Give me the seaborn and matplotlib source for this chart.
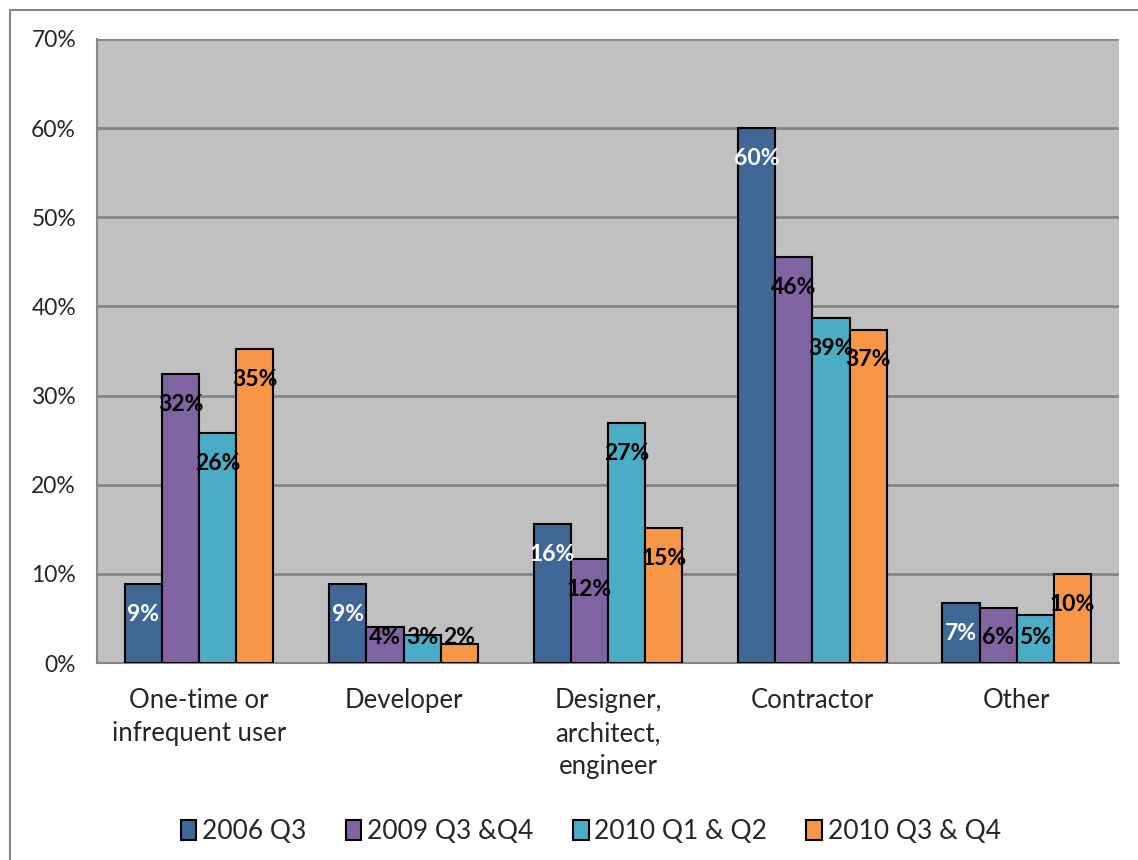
import numpy as np
import pandas as pd
import matplotlib
matplotlib.use("Agg")
import matplotlib.pyplot as plt
import seaborn as sns
from matplotlib.patches import Rectangle

categories = ["One-time or\ninfrequent user", "Developer", "Designer,\narchitect,\nengineer",
              "Contractor", "Other"]
series = ["2006 Q3", "2009 Q3 &Q4", "2010 Q1 & Q2", "2010 Q3 & Q4"]
v2006_q3 = [8.9, 8.9, 15.6, 60.0, 6.7]
v2009_q34 = [32.4, 4.1, 11.7, 45.5, 6.2]
v2010_q12 = [25.8, 3.1, 26.9, 38.7, 5.4]
v2010_q34 = [35.2, 2.1, 15.1, 37.4, 10.0]
colors = ["#3F6897", "#8064A2", "#4BACC6", "#F79646"]

rows = []
for s, vals in zip(series, [v2006_q3, v2009_q34, v2010_q12, v2010_q34]):
    for c, v in zip(categories, vals):
        rows.append({"category": c, "series": s, "value": v})
df = pd.DataFrame(rows)

sns.set_style("white")
plt.rcParams["font.family"] = ["Lato", "DejaVu Sans"]

fig = plt.figure(figsize=(11.38, 8.6), dpi=100)
ax = fig.add_axes([0.0852, 0.229, 0.8981, 0.7257])
ax.set_facecolor("#C0C0C0")

sns.barplot(data=df, x="category", y="value", hue="series", palette=colors,
            width=0.727, edgecolor="black", linewidth=1.5, saturation=1,
            ax=ax, zorder=3)

ax.set_ylim(0, 70)
ax.set_xlim(-0.5, 4.5)
ax.set_yticks(np.arange(0, 71, 10))
ax.set_yticklabels([f"{t}%" for t in range(0, 71, 10)], fontsize=16.5)
ax.yaxis.grid(True, color="#858585", linewidth=2, zorder=0)
ax.set_axisbelow(True)
ax.set_xlabel("")
ax.set_ylabel("")

ax.set_xticks(np.arange(-0.5, 5, 1))
ax.set_xticklabels([])
ax.set_xticks(np.arange(5), minor=True)
ax.set_xticklabels(categories, minor=True, fontsize=18.5, linespacing=1.4)
ax.tick_params(axis="x", which="major", length=9, width=1.5, color="#868686", direction="out")
ax.tick_params(axis="x", which="minor", length=0, pad=18)
ax.tick_params(axis="y", length=9, width=1.5, color="#868686", direction="out", pad=6)

for side in ["top", "right"]:
    ax.spines[side].set_visible(False)
for side in ["left", "bottom"]:
    ax.spines[side].set_color("#868686")
    ax.spines[side].set_linewidth(1.5)

# data labels, inside end like Excel
for i, cont in enumerate(ax.containers):
    tc = "white" if i == 0 else "black"
    for bar in cont:
        h = bar.get_height()
        y = max(h - 3.4, 2.9)
        ax.text(bar.get_x() + bar.get_width() / 2, y, f"{h:.0f}%",
                ha="center", va="center", fontsize=16.5, fontweight="bold",
                color=tc, zorder=5)

handles, labels = ax.get_legend_handles_labels()
ax.legend(handles, labels, loc="center", bbox_to_anchor=(0.483, -0.27), ncol=4,
          frameon=False, fontsize=19, handlelength=0.6, handleheight=0.75,
          handletextpad=0.2, columnspacing=1.5)

fig.patches.append(Rectangle((10 / 1138, -0.1), 1.2, 1 - 10 / 860 + 0.1,
                             transform=fig.transFigure, fill=False,
                             edgecolor="#868686", linewidth=1.5))

fig.savefig("out.png", dpi=100)
